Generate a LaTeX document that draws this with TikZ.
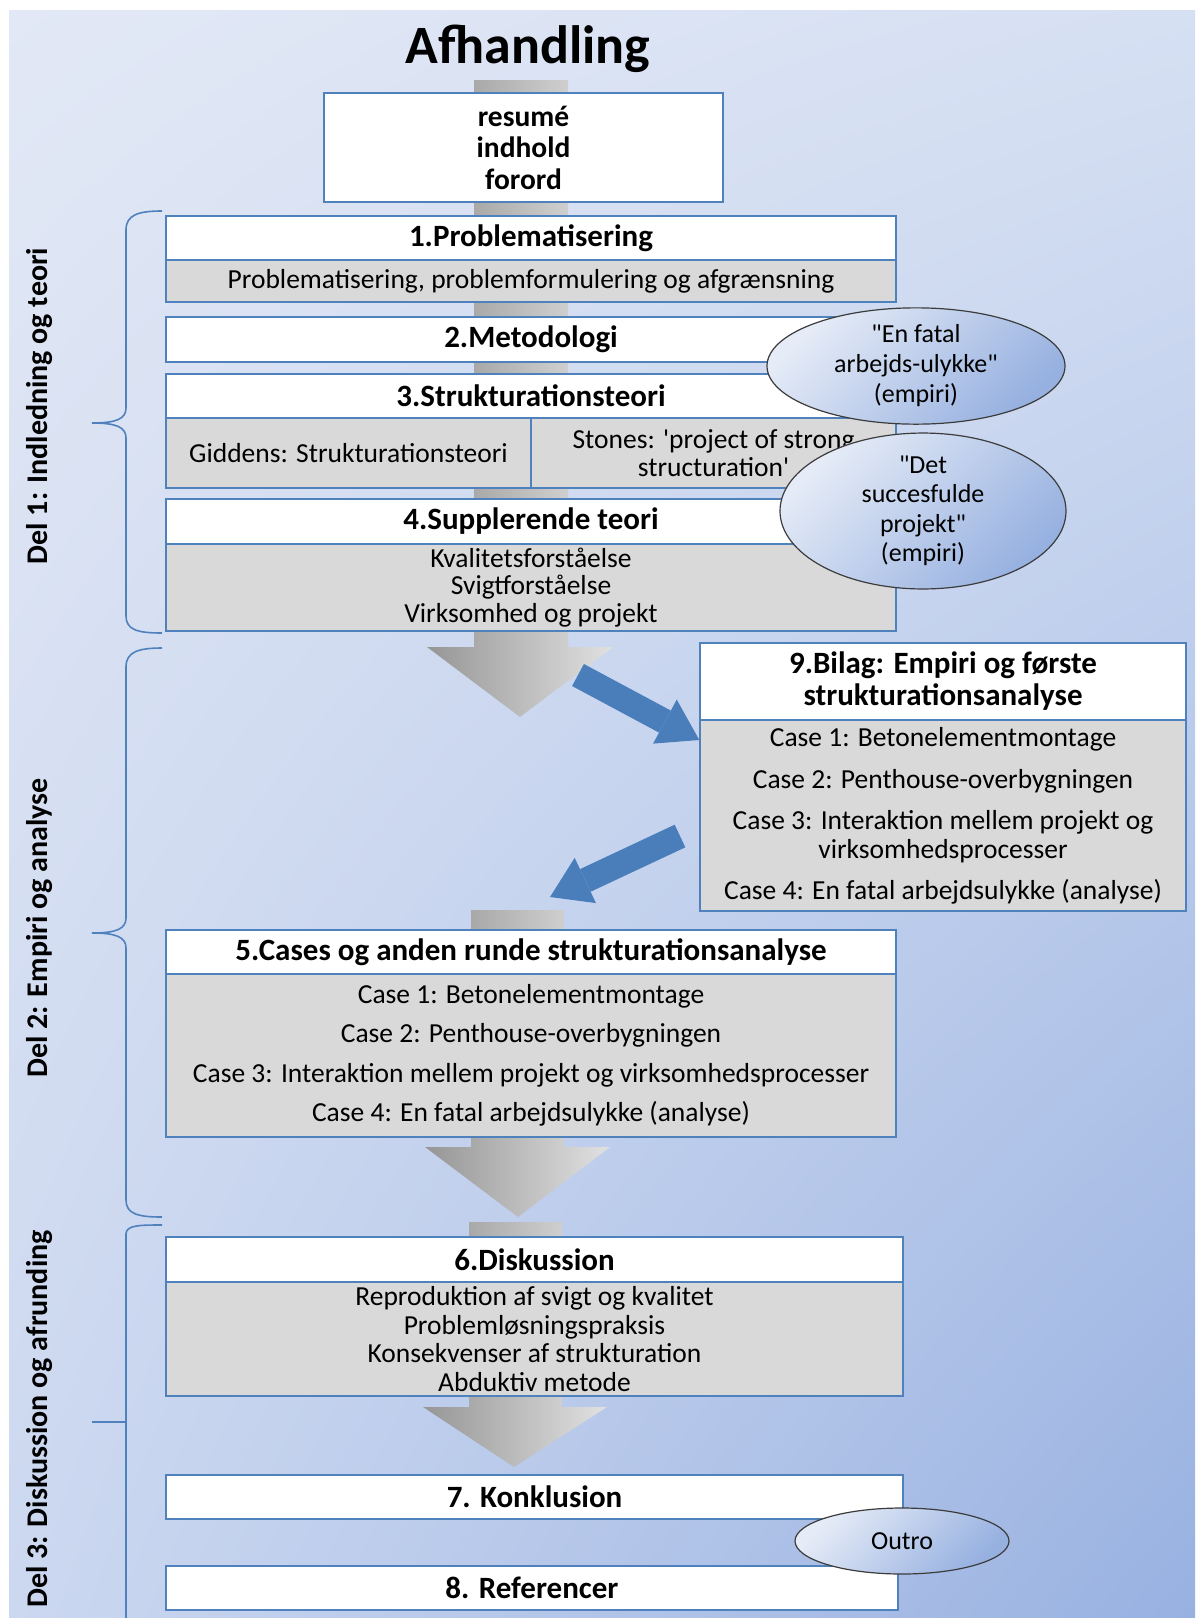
\documentclass[tikz,border=0pt]{standalone}
\usepackage{fontspec}
\setmainfont{Carlito}[Ligatures=TeXOff]
\usetikzlibrary{arrows.meta,shapes.geometric,shadings}
\definecolor{bordblue}{RGB}{79,129,189}
\definecolor{arrblue}{RGB}{74,126,187}
\definecolor{boxgray}{RGB}{217,217,217}
\definecolor{bgUL}{RGB}{226,232,245}
\definecolor{bgUR}{RGB}{214,224,243}
\definecolor{bgLL}{RGB}{204,216,240}
\definecolor{bgLR}{RGB}{152,177,225}
\definecolor{ellA}{RGB}{230,236,247}
\definecolor{ellB}{RGB}{150,176,224}
\definecolor{ellline}{RGB}{60,60,60}
\definecolor{spineA}{RGB}{150,150,150}
\definecolor{spineB}{RGB}{225,225,225}
\newcommand\FBody{\fontsize{27.5}{28.5}\selectfont}
\newcommand\FTitle{\fontsize{31}{32}\bfseries\selectfont}
\newcommand\FBig{\fontsize{54}{58}\bfseries\selectfont}
\newcommand\FLbl{\fontsize{30}{32}\bfseries\selectfont}
\begin{document}
\begin{tikzpicture}[x=1pt,y=-1pt,
  hbox/.style={draw=bordblue,line width=1.4pt,fill=white,inner sep=0pt,align=center,font=\FTitle},
  gbox/.style={draw=bordblue,line width=1.4pt,fill=boxgray,inner sep=0pt,align=center,font=\FBody},
  oval/.style={ellipse,draw=ellline,line width=1.2pt,top color=ellA,bottom color=ellB,shading angle=45,inner sep=0pt,align=center,font=\FBody},
  bracepath/.style={draw=bordblue,line width=1.6pt},
  bluearrow/.style={draw=arrblue,line width=25pt,-{Triangle[length=39pt,width=50pt,line width=0pt]}},
  spinefill/.style={left color=spineA,right color=spineB},
  sidelabel/.style={rotate=90,font=\FLbl,inner sep=0pt}
]
\useasboundingbox (0,0) rectangle (1195,1618);
\fill[white] (0,0) rectangle (1195,1618);
\shade[upper left=bgUL,upper right=bgUR,lower left=bgLL,lower right=bgLR] (9,10) rectangle (1195,1618);

% braces
\draw[bracepath] (162,211) .. controls (138,211) and (126,215) .. (126,230) -- (126,408)
  .. controls (126,419) and (116,423) .. (92,423) .. controls (116,423) and (126,427) .. (126,438)
  -- (126,616) .. controls (126,630) and (138,633) .. (162,633);
\draw[bracepath] (162,648) .. controls (138,648) and (126,652) .. (126,667) -- (126,918)
  .. controls (126,929) and (116,933) .. (92,933) .. controls (116,933) and (126,937) .. (126,948)
  -- (126,1200) .. controls (126,1214) and (138,1217) .. (162,1217);
\draw[bracepath] (162,1225) .. controls (140,1225) and (126,1225) .. (126,1234) -- (126,1618);
\draw[bracepath] (92,1422) -- (126,1422);

% side labels
\node[sidelabel] (del1) at (40,406) {Del 1: Indledning og teori};
\node[sidelabel] (del2) at (40,928) {Del 2: Empiri og analyse};
\node[sidelabel] (del3) at (40,1419) {Del 3: Diskussion og afrunding};

% grey block arrows
\shade[spinefill] (474,80) -- (568,80) -- (568,647) -- (613,647) -- (520,717) -- (427,647) -- (474,647) -- cycle;
\shade[spinefill] (471,910) -- (564,910) -- (564,1147) -- (610,1147) -- (518,1217) -- (425,1147) -- (471,1147) -- cycle;
\shade[spinefill] (469,1222) -- (562,1222) -- (562,1407) -- (607,1407) -- (514,1467) -- (423,1407) -- (469,1407) -- cycle;

% title
\node[font=\FBig,anchor=base,inner sep=0pt] (title) at (528,63) {Afhandling};

% front matter
\node[draw=bordblue,line width=1.4pt,fill=white,minimum width=399pt,minimum height=109pt,inner sep=0pt,align=center,
  font=\fontsize{29.5}{31.5}\bfseries\selectfont] (front) at (523.5,147.5) {resumé\\indhold\\forord};

% 1
\node[hbox,minimum width=730pt,minimum height=44pt] (h1) at (531,238) {1.Problematisering};
\node[gbox,minimum width=730pt,minimum height=42pt] (b1) at (531,281) {Problematisering, problemformulering og afgrænsning};
% 2
\node[hbox,minimum width=730pt,minimum height=45pt] (h2) at (531,339.5) {2.Metodologi};
% 3
\node[hbox,minimum width=730pt,minimum height=44pt] (h3) at (531,396) {3.Strukturationsteori};
\node[gbox,minimum width=365pt,minimum height=70pt] (b3l) at (348.5,453) {Giddens: Strukturationsteori};
\node[gbox,minimum width=365pt,minimum height=70pt] (b3r) at (713.5,453) {Stones: 'project of strong\\structuration'};
% 4
\node[hbox,minimum width=730pt,minimum height=45pt] (h4) at (531,521.5) {4.Supplerende teori};
\node[gbox,minimum width=730pt,minimum height=87pt,font=\fontsize{27.5}{27.5}\selectfont] (b4) at (531,587.5) {Kvalitetsforståelse\\Svigtforståelse\\Virksomhed og projekt};

% 9
\node[hbox,minimum width=486pt,minimum height=77pt,font=\fontsize{31}{32}\bfseries\selectfont] (h9) at (943,681.5) {9.Bilag: Empiri og første\\strukturationsanalyse};
\node[gbox,minimum width=486pt,minimum height=191pt,font=\fontsize{27.5}{29}\selectfont] (b9) at (943,815.5)
  {Case 1: Betonelementmontage\\[13pt]Case 2: Penthouse-overbygningen\\[12pt]Case 3: Interaktion mellem projekt og\\virksomhedsprocesser\\[12pt]Case 4: En fatal arbejdsulykke (analyse)};

% 5
\node[hbox,minimum width=730pt,minimum height=44pt] (h5) at (531,952) {5.Cases og anden runde strukturationsanalyse};
\node[gbox,minimum width=730pt,minimum height=163pt] (b5) at (531,1055.5)
  {Case 1: Betonelementmontage\\[11pt]Case 2: Penthouse-overbygningen\\[11pt]Case 3: Interaktion mellem projekt og virksomhedsprocesser\\[11pt]Case 4: En fatal arbejdsulykke (analyse)};

% 6
\node[hbox,minimum width=737pt,minimum height=45pt] (h6) at (534.5,1259.5) {6.Diskussion};
\node[gbox,minimum width=737pt,minimum height=114pt] (b6) at (534.5,1339)
  {Reproduktion af svigt og kvalitet\\Problemløsningspraksis\\Konsekvenser af strukturation\\Abduktiv metode};
% 7, 8
\node[hbox,minimum width=737pt,minimum height=44pt] (h7) at (534.5,1497) {7. Konklusion};
\node[hbox,minimum width=732pt,minimum height=44pt] (h8) at (532,1588) {8. Referencer};

% ellipses
\node[oval,minimum width=298pt,minimum height=104pt,font=\fontsize{26}{30}\selectfont] (e1) at (916,366) {"En fatal\\arbejds-ulykke"\\(empiri)};
\node[oval,minimum width=286pt,minimum height=124pt,font=\fontsize{26}{29.5}\selectfont] (e2) at (923,511) {"Det\\succesfulde\\projekt"\\(empiri)};
\node[oval,minimum width=214pt,minimum height=66pt,font=\fontsize{26}{30}\selectfont] (e3) at (902,1541) {Outro};

% blue arrows
\coordinate (a1s) at (578,675);
\coordinate (a1e) at (h9.west |- 0,740);
\coordinate (a2s) at (680,836);
\coordinate (a2e) at (550,897);
\draw[bluearrow] (a1s) -- (a1e);
\draw[bluearrow] (a2s) -- (a2e);
\end{tikzpicture}
\end{document}
